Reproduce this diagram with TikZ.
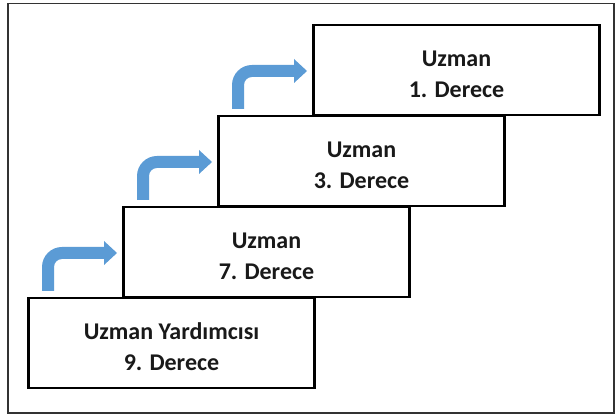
\documentclass[tikz,border=0pt]{standalone}
\usepackage{fontspec}
\setmainfont{Carlito}
\tikzset{
  stairbox/.style={draw=black, line width=2.5pt, fill=white, minimum width=286pt, minimum height=90pt, inner sep=0pt},
  stairtext/.style={font=\bfseries\fontsize{24}{31}\selectfont, align=center, text=black!90, inner sep=0pt},
  stairarrow/.pic={
    \fill[arrowblue] (0,0) -- (0,24) arc[start angle=180, end angle=90, radius=20]
      -- (62,44) -- (62,50) -- (75,38) -- (62,26) -- (62,32) -- (20,32)
      arc[start angle=90, end angle=180, radius=8] -- (12,0) -- cycle;
  }
}
\definecolor{arrowblue}{HTML}{5B9BD5}
\begin{document}
\begin{tikzpicture}[x=1pt,y=1pt]
\useasboundingbox (0,0) rectangle (616,415);
\fill[white] (0,0) rectangle (616,415);
\draw[black!80, line width=1.6pt] (8,2) rectangle (614,411.5);

\node[stairbox] (b4) at (171.5,72) {};
\node[stairbox] (b3) at (266.5,163) {};
\node[stairbox] (b2) at (361.5,254) {};
\node[stairbox] (b1) at (456.5,345) {};

\node[stairtext, yshift=-4pt] (t4) at (b4.center) {Uzman Yardımcısı\\9. Derece};
\node[stairtext, yshift=-4pt] (t3) at (b3.center) {Uzman\\7. Derece};
\node[stairtext, yshift=-4pt] (t2) at (b2.center) {Uzman\\3. Derece};
\node[stairtext, yshift=-4pt] (t1) at (b1.center) {Uzman\\1. Derece};

\pic at (42,124) {stairarrow};
\pic at (137,215) {stairarrow};
\pic at (232,306) {stairarrow};
\end{tikzpicture}
\end{document}
